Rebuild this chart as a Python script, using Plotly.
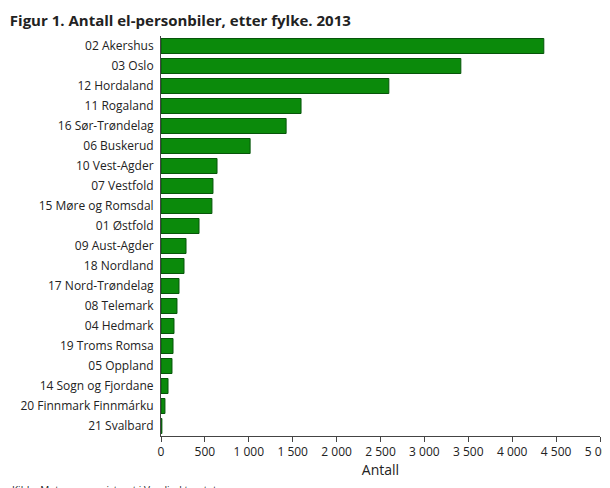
import plotly.graph_objects as go

fylker = ["02 Akershus", "03 Oslo", "12 Hordaland", "11 Rogaland", "16 Sør-Trøndelag",
          "06 Buskerud", "10 Vest-Agder", "07 Vestfold", "15 Møre og Romsdal", "01 Østfold",
          "09 Aust-Agder", "18 Nordland", "17 Nord-Trøndelag", "08 Telemark", "04 Hedmark",
          "19 Troms Romsa", "05 Oppland", "14 Sogn og Fjordane", "20 Finnmark Finnmárku",
          "21 Svalbard"]
antall = [4360, 3415, 2595, 1595, 1425, 1015, 638, 592, 580, 433,
          285, 262, 205, 182, 148, 137, 125, 80, 45, 10]
tick_vals = [0, 500, 1000, 1500, 2000, 2500, 3000, 3500, 4000, 4500, 5000]

fig = go.Figure(go.Bar(
    x=antall, y=fylker, orientation="h",
    marker=dict(color="#0b8a0b", line=dict(color="#06550a", width=1)),
    width=0.75,
))

fig.update_layout(
    width=610, height=488,
    font=dict(family="Open Sans", size=12, color="#222"),
    separators=", ",
    plot_bgcolor="white", paper_bgcolor="white",
    margin=dict(l=153, r=18, t=28, b=60, autoexpand=False),
    title=dict(text="<b>Figur 1. Antall el-personbiler, etter fylke. 2013</b>",
               x=0.003, xanchor="left", y=0.985, yanchor="top",
               font=dict(size=15, color="#222")),
    showlegend=False,
)
fig.update_xaxes(range=[0, 5000], tickvals=tick_vals, tickformat=",d",
                 showgrid=False, showline=True, linecolor="#444",
                 ticks="outside", ticklen=5, tickcolor="#444", automargin=False,
                 title=dict(text="Antall", standoff=0))
fig.update_yaxes(autorange="reversed", showline=True, linecolor="#444",
                 ticks="", ticklabelstandoff=4, automargin=False)
fig.add_annotation(text="Kilde: Motorvognregisteret i Vegdirektoratet.",
                   xref="paper", yref="paper", x=-0.345, y=-0.112,
                   xanchor="left", yanchor="top", showarrow=False,
                   font=dict(size=10))

fig.write_html("out.html")
